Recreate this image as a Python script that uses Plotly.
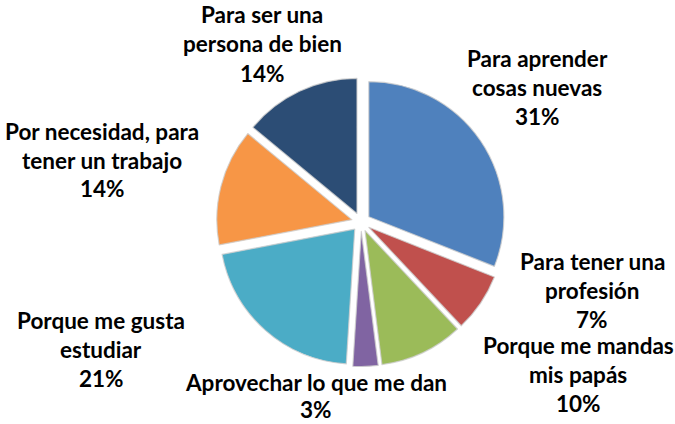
import plotly.graph_objects as go

categories = [
    "Para aprender<br>cosas nuevas",
    "Para tener una<br>profesión",
    "Porque me mandas<br>mis papás",
    "Aprovechar lo que me dan",
    "Porque me gusta<br>estudiar",
    "Por necesidad, para<br>tener un trabajo",
    "Para ser una<br>persona de bien",
]
values = [31, 7, 10, 3, 21, 14, 14]
colors = ["#4F81BD", "#C0504D", "#9BBB59", "#8064A2", "#4BACC6", "#F79646", "#2C4D75"]

W, H = 675, 424
# label layout in pixels (style only): centre x of each line, y of first line, line step
label_pos = [
    ([537, 537, 537], 58, 29),
    ([592, 592, 592], 261, 29),
    ([578, 578, 578], 345, 29),
    ([316, 316], 382, 27),
    ([101, 101, 101], 320, 29),
    ([102, 102, 102], 131, 29),
    ([262, 262, 262], 15, 29),
]

FONT = "Lato, sans-serif"

cx, cy, rb = 361, 222, 144.5
dom_x = [(cx - rb) / W, (cx + rb) / W]
dom_y = [1 - (cy + rb) / H, 1 - (cy - rb) / H]

fig = go.Figure()
fig.add_trace(go.Pie(
    labels=categories,
    values=values,
    sort=False,
    direction="clockwise",
    rotation=0,
    pull=[0.07] * len(values),
    marker=dict(colors=colors, line=dict(color="rgba(205,205,205,0.8)", width=1.2)),
    textinfo="none",
    hoverinfo="label+percent",
    showlegend=False,
    domain=dict(x=dom_x, y=dom_y),
))

total = sum(values)
for cat, v, (xs, y0, step) in zip(categories, values, label_pos):
    lines = cat.split("<br>") + [f"{round(100 * v / total)}%"]
    for i, (line, px) in enumerate(zip(lines, xs)):
        fig.add_annotation(
            x=px / W, y=1 - (y0 + i * step) / H, xref="paper", yref="paper",
            xanchor="center", yanchor="middle",
            text=line,
            showarrow=False,
            font=dict(family=FONT, size=22.5, color="#000000", weight="bold"),
            align="center",
        )

fig.update_layout(
    width=W, height=H,
    margin=dict(l=0, r=0, t=0, b=0),
    paper_bgcolor="white",
    plot_bgcolor="white",
    showlegend=False,
)

fig.write_html(
    "out.html",
    config={"displayModeBar": False},
    post_script="document.body.style.margin='0';document.body.style.overflow='hidden';",
)
